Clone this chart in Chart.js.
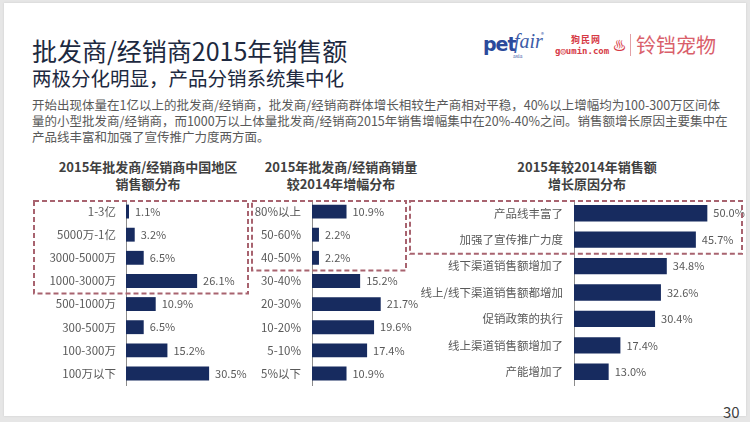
<!DOCTYPE html>
<html>
<head>
<meta charset="utf-8">
<script src="https://cdn.jsdelivr.net/npm/chart.js@4/dist/chart.umd.min.js"></script>
<style>
  body { margin: 0; width: 750px; height: 422px; background: #e6e6e6; font-family: "Noto Sans CJK SC", sans-serif; overflow: hidden; }
  .slide { position: absolute; left: 4px; top: 3px; width: 742px; height: 413px; background: #fff; box-shadow: 0 0 2px #ccc; }
  .abs { position: absolute; white-space: nowrap; }
  .title { left: 32px; top: 35px; font-size: 25px; line-height: 30px; color: #1d2940; }
  .subtitle { left: 32px; top: 66px; font-size: 19.5px; line-height: 24px; color: #1d2940; }
  .body-text { left: 32px; top: 97px; font-size: 12.5px; line-height: 16px; color: #595959; }
  .chart-title { font-size: 13px; font-weight: bold; line-height: 17px; color: #404040; text-align: center; width: 220px; }
  .box { position: absolute; }
  .page-no { left: 723px; top: 401px; font-size: 15px; color: #404040; }
</style>
</head>
<body>
<div class="slide"></div>

<div class="abs title">批发商/经销商2015年销售额</div>
<div class="abs subtitle">两极分化明显，产品分销系统集中化</div>
<div class="abs body-text">开始出现体量在1亿以上的批发商/经销商，批发商/经销商群体增长相较生产商相对平稳，40%以上增幅均为100-300万区间体<br>量的小型批发商/经销商，而1000万以上体量批发商/经销商2015年销售增幅集中在20%-40%之间。销售额增长原因主要集中在<br>产品线丰富和加强了宣传推广力度两方面。</div>

<!-- logos -->
<div class="abs" style="left:483px;top:33px;font-size:19px;font-weight:bold;color:#2b4a9b;font-family:'DejaVu Sans',sans-serif;letter-spacing:-1px;">pet</div>
<div class="abs" style="left:514px;top:30px;font-size:20px;font-style:italic;color:#3d5ca8;font-family:'Liberation Serif',serif;">fair</div>
<div class="abs" style="left:541px;top:30px;font-size:6px;color:#3d5ca8;">®</div>
<div class="abs" style="left:513px;top:53px;font-size:6px;color:#3d5ca8;font-family:'Liberation Serif',serif;">asia</div>
<div class="abs" style="left:571px;top:33px;font-size:9px;font-weight:bold;color:#d63a46;letter-spacing:1px;">狗民网</div>
<div class="abs" style="left:555px;top:46px;font-size:9px;font-weight:bold;color:#d63a46;font-family:'DejaVu Sans Mono',monospace;">g◎umin.com</div>
<div class="abs" style="left:613px;top:35px;font-size:13px;color:#d63a46;">♨</div>
<div class="abs" style="left:630px;top:34px;width:1px;height:22px;background:#e2a0a6;"></div>
<div class="abs" style="left:636px;top:31px;font-size:20px;line-height:28px;color:#d9606b;">铃铛宠物</div>

<div class="abs chart-title" style="left:38px;top:158px;">2015年批发商/经销商中国地区<br>销售额分布</div>
<div class="abs chart-title" style="left:231px;top:158px;">2015年批发商/经销商销量<br>较2014年增幅分布</div>
<div class="abs chart-title" style="left:477px;top:158px;">2015年较2014年销售额<br>增长原因分布</div>

<div class="box" style="left:30px;top:195px;width:222px;height:195px;"><canvas id="region-chart"></canvas></div>
<div class="box" style="left:250px;top:195px;width:170px;height:195px;"><canvas id="growth-chart"></canvas></div>
<div class="box" style="left:405px;top:195px;width:340px;height:195px;"><canvas id="reason-chart"></canvas></div>

<div class="abs page-no">30</div>

<script>
"use strict";

var regionLabels = ["1-3亿", "5000万-1亿", "3000-5000万", "1000-3000万", "500-1000万", "300-500万", "100-300万", "100万以下"];
var regionValues = [1.1, 3.2, 6.5, 26.1, 10.9, 6.5, 15.2, 30.5];

var growthLabels = ["80%以上", "50-60%", "40-50%", "30-40%", "20-30%", "10-20%", "5-10%", "5%以下"];
var growthValues = [10.9, 2.2, 2.2, 15.2, 21.7, 19.6, 17.4, 10.9];

var reasonLabels = ["产品线丰富了", "加强了宣传推广力度", "线下渠道销售额增加了", "线上/线下渠道销售额都增加", "促销政策的执行", "线上渠道销售额增加了", "产能增加了"];
var reasonValues = [50.0, 45.7, 34.8, 32.6, 30.4, 17.4, 13.0];

var barColor = "#172b5f";
var textColor = "#595959";
var boxColor = "#a8636f";

Chart.defaults.font.family = "'Noto Sans CJK SC', sans-serif";
Chart.defaults.color = textColor;

var valueLabelPlugin = {
  id: "valueLabels",
  afterDatasetsDraw: function(chart) {
    var ctx = chart.ctx;
    var meta = chart.getDatasetMeta(0);
    var values = chart.data.datasets[0].data;
    ctx.save();
    ctx.font = "11px 'Noto Sans CJK SC'";
    ctx.fillStyle = textColor;
    ctx.textBaseline = "middle";
    meta.data.forEach(function(bar, i) {
      ctx.fillText(values[i].toFixed(1) + "%", bar.x + 6, bar.y);
    });
    ctx.restore();
  }
};

// dashed highlight round the first few rows
var dashBoxPlugin = {
  id: "dashBox",
  afterDraw: function(chart, args, opts) {
    var yScale = chart.scales.y;
    var half = (yScale.getPixelForValue(1) - yScale.getPixelForValue(0)) / 2;
    var top = yScale.getPixelForValue(0) - half;
    var bottom = yScale.getPixelForValue(opts.rows - 1) + half;
    var ctx = chart.ctx;
    ctx.save();
    ctx.strokeStyle = boxColor;
    ctx.lineWidth = 2;
    ctx.setLineDash([5, 3]);
    ctx.strokeRect(opts.left, top + 1, opts.right - opts.left, bottom - top);
    ctx.restore();
  }
};

function renderBarChart(elemId, labels, values, cfg) {
  var elem = document.getElementById(elemId).getContext("2d");
  new Chart(elem, {
    type: "bar",
    data: {
      labels: labels,
      datasets: [
        {
          data: values,
          backgroundColor: barColor,
          categoryPercentage: 1,
          barPercentage: cfg.barPercentage
        }
      ]
    },
    options: {
      indexAxis: "y",
      responsive: true,
      maintainAspectRatio: false,
      animation: false,
      layout: { padding: { top: 5, bottom: 5, right: cfg.padRight, left: 0 } },
      plugins: {
        legend: { display: false },
        tooltip: { enabled: false },
        dashBox: cfg.box
      },
      scales: {
        x: { display: false, min: 0, max: cfg.max },
        y: {
          grid: { display: false, drawTicks: false },
          border: { display: true, color: "#8c8c8c", width: 1 },
          ticks: { padding: cfg.tickPad, color: textColor, font: { size: 11.5 } },
          afterFit: function(scale) {
            scale.width = cfg.axisWidth;
            scale.paddingTop = 0;
            scale.paddingBottom = 0;
          }
        }
      }
    },
    plugins: [valueLabelPlugin, dashBoxPlugin]
  });
}

renderBarChart("region-chart", regionLabels, regionValues, {
  max: 40, padRight: 17, axisWidth: 96, tickPad: 10, barPercentage: 0.6,
  box: { rows: 4, left: 4, right: 218 }
});
renderBarChart("growth-chart", growthLabels, growthValues, {
  max: 30, padRight: 13, axisWidth: 62, tickPad: 11, barPercentage: 0.6,
  box: { rows: 3, left: 2, right: 156 }
});
renderBarChart("reason-chart", reasonLabels, reasonValues, {
  max: 60, padRight: 11, axisWidth: 169, tickPad: 11, barPercentage: 0.62,
  box: { rows: 2, left: 5, right: 337 }
});
</script>
</body>
</html>
